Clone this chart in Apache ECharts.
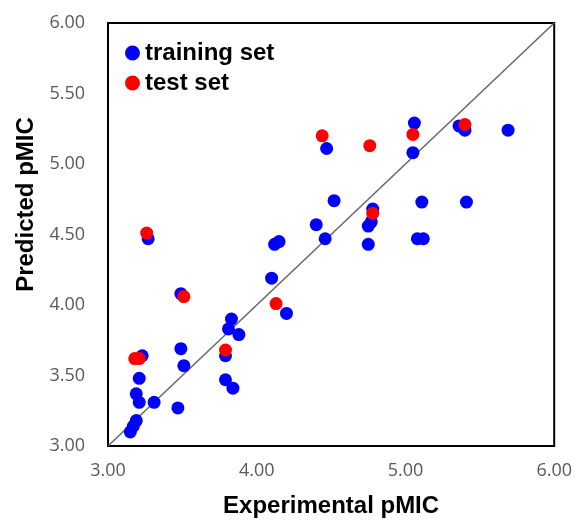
<!DOCTYPE html>
<html>
<head>
<meta charset="utf-8">
<script src="https://cdn.jsdelivr.net/npm/echarts@6/dist/echarts.min.js"></script>
<style>html,body{margin:0;padding:0;background:#fff;}#c{width:575px;height:523px;}</style>
</head>
<body>
<div id="c"></div>
<script>
const trainX = [3.27,3.49,3.23,3.49,3.51,3.21,3.19,3.21,3.31,3.47,3.19,3.17,3.15,3.83,3.81,3.88,3.79,3.79,3.84,4.10,4.20,4.12,4.15,4.40,4.46,4.52,4.47,5.06,5.05,5.11,4.78,4.77,4.75,4.75,5.08,5.12,5.36,5.40,5.69,5.41];
const trainY = [4.47,4.08,3.64,3.69,3.57,3.48,3.37,3.31,3.31,3.27,3.18,3.14,3.10,3.90,3.83,3.79,3.64,3.47,3.41,4.19,3.94,4.43,4.45,4.57,4.47,4.74,5.11,5.29,5.08,4.73,4.68,4.59,4.56,4.43,4.47,4.47,5.27,5.24,5.24,4.73];
const testX = [3.26,3.51,3.18,3.21,3.79,4.13,4.44,4.76,5.05,5.40,4.78];
const testY = [4.51,4.06,3.62,3.62,3.68,4.01,5.20,5.13,5.21,5.28,4.65];
const xTicks = [3, 4, 5, 6];
const yTicks = [3, 3.5, 4, 4.5, 5, 5.5, 6];
const refLine = [3, 6];

const pair = (xs, ys) => xs.map((x, i) => [x, ys[i]]);
const chart = echarts.init(document.getElementById('c'), null, {renderer: 'canvas'});
const tickFont = {color: '#595959', fontFamily: 'Open Sans', fontSize: 18};
chart.setOption({
  animation: false,
  backgroundColor: '#fff',
  grid: {left: 108, top: 23, right: 18, bottom: 71, show: true, borderColor: '#000', borderWidth: 2, backgroundColor: 'transparent'},
  legend: {
    orient: 'vertical', left: 120, top: 36, itemGap: 6, itemWidth: 15, itemHeight: 15,
    data: [{name: 'training set', icon: 'circle'}, {name: 'test set', icon: 'circle'}],
    textStyle: {fontFamily: 'Liberation Sans', fontWeight: 'bold', fontSize: 24, color: '#000'}
  },
  xAxis: {
    type: 'value', min: xTicks[0], max: xTicks[xTicks.length-1], interval: 1,
    name: 'Experimental pMIC', nameLocation: 'middle', nameGap: 48,
    nameTextStyle: {fontFamily: 'Liberation Sans', fontWeight: 'bold', fontSize: 24, color: '#000'},
    axisLine: {show: false}, axisTick: {show: false}, splitLine: {show: false},
    axisLabel: Object.assign({margin: 16, formatter: v => v.toFixed(2)}, tickFont)
  },
  yAxis: {
    type: 'value', min: yTicks[0], max: yTicks[yTicks.length-1], interval: 0.5,
    name: 'Predicted pMIC', nameLocation: 'middle', nameGap: 66,
    nameTextStyle: {fontFamily: 'Liberation Sans', fontWeight: 'bold', fontSize: 24, color: '#000', padding: [0, 0, 0, 60]},
    axisLine: {show: false}, axisTick: {show: false}, splitLine: {show: false},
    axisLabel: Object.assign({margin: 23, formatter: v => v.toFixed(2)}, tickFont)
  },
  series: [
    {type: 'line', data: [[refLine[0], refLine[0]], [refLine[1], refLine[1]]], symbol: 'none', silent: true,
     lineStyle: {color: '#666', width: 1.5}, z: 1},
    {name: 'training set', type: 'scatter', data: pair(trainX, trainY), symbolSize: 13,
     itemStyle: {color: '#0000ff', opacity: 1}, z: 2},
    {name: 'test set', type: 'scatter', data: pair(testX, testY), symbolSize: 13,
     itemStyle: {color: '#ff0000', opacity: 1}, z: 3}
  ]
});
</script>
</body>
</html>
